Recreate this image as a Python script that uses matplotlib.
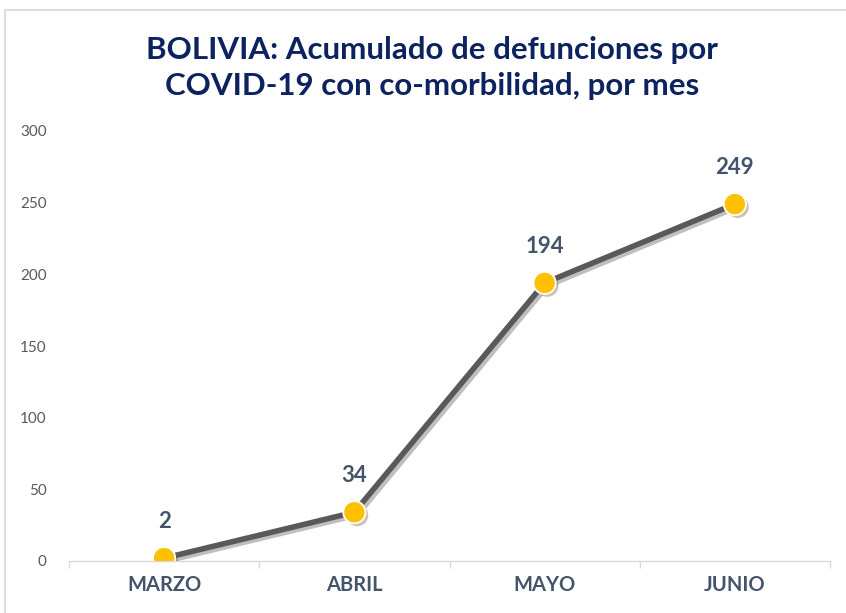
import matplotlib.pyplot as plt
import matplotlib.patheffects as pe
from matplotlib.patches import Rectangle

meses = ['MARZO', 'ABRIL', 'MAYO', 'JUNIO']
defunciones = [2, 34, 194, 249]
yticks = [0, 50, 100, 150, 200, 250, 300]

plt.rcParams['font.family'] = ['Lato', 'DejaVu Sans']

fig = plt.figure(figsize=(8.46, 6.13), dpi=100)
fig.patches.append(Rectangle((5 / 846, -0.1), 1.2, 1 - 10 / 613 + 0.1,
                             transform=fig.transFigure, fill=False,
                             edgecolor='#D9DEE6', linewidth=1.5))

ax = fig.add_axes([69 / 846, 1 - 561 / 613, (830 - 69) / 846, (561 - 131) / 613])
x = list(range(len(meses)))
ax.plot(x, defunciones, color='#595959', linewidth=4, zorder=2,
        solid_capstyle='round',
        path_effects=[pe.SimpleLineShadow(offset=(2, -2), alpha=0.25),
                      pe.Normal()])
ax.plot(x, defunciones, linestyle='none', marker='o', markersize=16,
        markerfacecolor='#FFC000', markeredgecolor='white', markeredgewidth=1.3,
        zorder=3,
        path_effects=[pe.SimplePatchShadow(offset=(2, -2), alpha=0.3),
                      pe.Normal()])

for xi, v in zip(x, defunciones):
    ax.annotate(str(v), (xi, v), xytext=(0, 19), textcoords='offset points',
                ha='center', va='bottom', fontsize=16, fontweight='bold',
                color='#44546A')

ax.set_xlim(-0.5, len(meses) - 0.5)
ax.set_ylim(0, 300)
ax.set_yticks(yticks)
ax.set_xticks(x)
ax.set_xticklabels(meses, fontsize=14.5, fontweight='bold', color='#44546A')
ax.set_xticks([i - 0.5 for i in range(len(meses) + 1)], minor=True)
ax.tick_params(axis='x', which='major', length=0, pad=10)
ax.tick_params(axis='x', which='minor', length=5, color='#D9D9D9', width=1)
ax.tick_params(axis='y', length=0, labelsize=11, labelcolor='#595959', pad=16)

for s in ['top', 'right', 'left']:
    ax.spines[s].set_visible(False)
ax.spines['bottom'].set_color('#D9D9D9')
ax.spines['bottom'].set_linewidth(1)

fig.text(432 / 846, 1 - 68 / 613,
         'BOLIVIA: Acumulado de defunciones por\nCOVID-19 con co-morbilidad, por mes',
         ha='center', va='center', fontsize=22.5, fontweight='bold',
         color='#0D2360', linespacing=1.32)

fig.savefig('out.png', dpi=100)
